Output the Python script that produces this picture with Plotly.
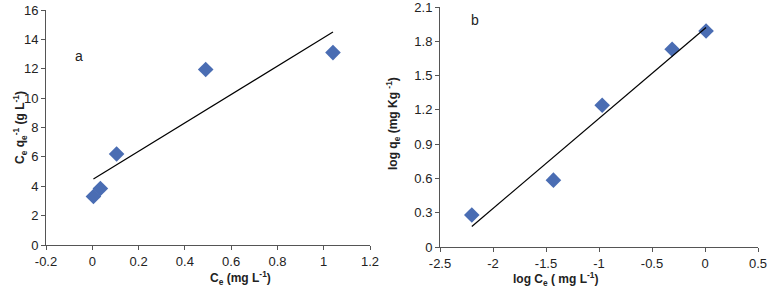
import plotly.graph_objects as go

# Panel a data
a_x = [0.005, 0.035, 0.105, 0.49, 1.04]
a_y = [3.3, 3.85, 6.2, 11.95, 13.1]
a_fit_x = [0.005, 1.04]
a_fit_y = [4.5, 14.5]

# Panel b data
b_x = [-2.2, -1.43, -0.97, -0.31, 0.01]
b_y = [0.28, 0.585, 1.24, 1.73, 1.89]
b_fit_x = [-2.2, 0.01]
b_fit_y = [0.18, 1.92]

a_xticks = [-0.2, 0, 0.2, 0.4, 0.6, 0.8, 1, 1.2]
a_xticklabels = ["-0.2", "0", "0.2", "0.4", "0.6", "0.8", "1", "1.2"]
a_yticks = [0, 2, 4, 6, 8, 10, 12, 14, 16]
b_xticks = [-2.5, -2, -1.5, -1, -0.5, 0, 0.5]
b_xticklabels = ["-2.5", "-2", "-1.5", "-1", "-0.5", "0", "0.5"]
b_yticks = [0, 0.3, 0.6, 0.9, 1.2, 1.5, 1.8, 2.1]
b_yticklabels = ["0", "0.3", "0.6", "0.9", "1.2", "1.5", "1.8", "2.1"]

W, H = 767, 303
FONT = "Liberation Sans"
marker = dict(symbol="diamond", size=12, color="#4a6db3")

fig = go.Figure()
fig.add_trace(go.Scatter(x=a_x, y=a_y, mode="markers", marker=marker, xaxis="x", yaxis="y"))
fig.add_trace(go.Scatter(x=a_fit_x, y=a_fit_y, mode="lines", line=dict(color="black", width=1.2), xaxis="x", yaxis="y"))
fig.add_trace(go.Scatter(x=b_x, y=b_y, mode="markers", marker=marker, xaxis="x2", yaxis="y2"))
fig.add_trace(go.Scatter(x=b_fit_x, y=b_fit_y, mode="lines", line=dict(color="black", width=1.2), xaxis="x2", yaxis="y2"))

axcommon = dict(showgrid=False, zeroline=False, showline=True, linecolor="#555", linewidth=1,
                ticks="outside", ticklen=4, tickcolor="#555", automargin=False,
                ticklabeloverflow="allow",
                tickfont=dict(family=FONT, size=13, color="#222"))

fig.update_layout(
    width=W, height=H,
    margin=dict(l=0, r=0, t=0, b=0),
    paper_bgcolor="white", plot_bgcolor="white",
    showlegend=False,
    font=dict(family=FONT, color="#222"),
    xaxis=dict(domain=[46/W, 370/W], range=[-0.2, 1.2], tickvals=a_xticks, ticktext=a_xticklabels,
               anchor="y", **axcommon),
    yaxis=dict(domain=[1-245/H, 1-10/H], range=[0, 16], tickvals=a_yticks, anchor="x", **axcommon),
    xaxis2=dict(domain=[440/W, 758/W], range=[-2.5, 0.5], tickvals=b_xticks, ticktext=b_xticklabels,
                anchor="y2", **axcommon),
    yaxis2=dict(domain=[1-247/H, 1-7/H], range=[0, 2.1], tickvals=b_yticks, ticktext=b_yticklabels,
                anchor="x2", **axcommon),
)

tf = dict(family=FONT, size=12, color="#222")
fig.add_annotation(text="<b>C<sub>e</sub> (mg L<sup>-1</sup>)</b>", xref="paper", yref="paper",
                   x=208/W, y=1-289/H, showarrow=False, font=tf)
fig.add_annotation(text="<b>C<sub>e</sub> q<sub>e</sub><sup>-1</sup> (g L<sup>-1</sup>)</b>", xref="paper", yref="paper",
                   x=9/W, y=1-128/H, showarrow=False, textangle=-90, font=tf)
fig.add_annotation(text="<b>log C<sub>e</sub> ( mg L<sup>-1</sup>)</b>", xref="paper", yref="paper",
                   x=600/W, y=1-290/H, showarrow=False, font=tf)
fig.add_annotation(text="<b>log q<sub>e</sub> (mg Kg <sup>-1</sup>)</b>", xref="paper", yref="paper",
                   x=393/W, y=1-124/H, showarrow=False, textangle=-90, font=tf)
fig.add_annotation(text="a", xref="x", yref="y", x=-0.057, y=12.9, showarrow=False,
                   font=dict(family=FONT, size=14, color="#222"))
fig.add_annotation(text="b", xref="x2", yref="y2", x=-2.17, y=1.99, showarrow=False,
                   font=dict(family=FONT, size=14, color="#222"))

fig.write_html("out.html", config={"displayModeBar": False},
               post_script="document.body.style.margin='0';document.body.style.overflow='hidden';")
